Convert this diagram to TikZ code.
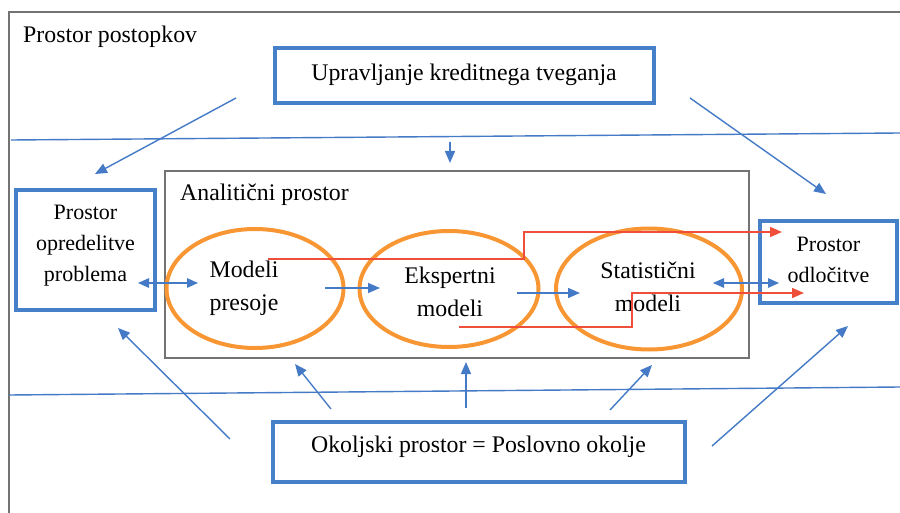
\documentclass[tikz,border=0pt]{standalone}
\usepackage{fontspec}
\setmainfont{Liberation Serif}
\usetikzlibrary{arrows.meta,shapes.geometric}
\definecolor{boxblue}{RGB}{70,128,200}
\definecolor{lineblue}{RGB}{68,122,198}
\definecolor{ringorange}{RGB}{248,150,52}
\definecolor{flowred}{RGB}{238,78,58}
\definecolor{framegray}{RGB}{115,115,115}
\begin{document}
\begin{tikzpicture}[x=1pt,y=-1pt,
  bluebox/.style={draw=boxblue,line width=4pt,inner sep=0pt},
  ring/.style={ellipse,draw=ringorange,line width=4pt,inner sep=0pt},
  grayframe/.style={draw=framegray,line width=1.1pt,inner sep=0pt},
  lbl/.style={font=\fontsize{23.8}{33}\selectfont,align=center,inner sep=0pt},
  boxlbl/.style={font=\fontsize{22}{31}\selectfont,align=center,inner sep=0pt},
  link/.style={draw=lineblue,line width=1.4pt,-{Triangle[length=12pt,width=10pt]}},
  both/.style={draw=lineblue,line width=1.4pt,{Triangle[length=11pt,width=9.5pt]}-{Triangle[length=11pt,width=9.5pt]}},
  flow/.style={draw=flowred,line width=1.4pt,-{Triangle[length=12pt,width=10pt]}},
  divider/.style={draw=lineblue,line width=1.4pt}]
\clip (0,0) rectangle (900,513);
\fill[white] (0,0) rectangle (900,513);
% outer frame
\draw[framegray,line width=1.1pt] (9,12) rectangle (930,540);
\node[lbl,anchor=base west] (title) at (23,43) {Prostor postopkov};

% dividers
\coordinate (d1l) at (11,140); \coordinate (d1r) at (900,133);
\coordinate (d2l) at (9,395);  \coordinate (d2r) at (900,387);
\draw[divider] (d1l) -- (d1r);
\draw[divider] (d2l) -- (d2r);

% boxes
\node[bluebox,minimum width=379pt,minimum height=55pt] (risk) at (464.5,75.5) {};
\node[lbl,anchor=base] (risktxt) at (464,81) {Upravljanje kreditnega tveganja};

\node[bluebox,minimum width=139pt,minimum height=120pt] (prob) at (85.5,250) {};
\node[boxlbl] (probtxt) at (85.5,246) {Prostor\\opredelitve\\problema};

\node[bluebox,minimum width=137pt,minimum height=82pt] (dec) at (828.5,262) {};
\node[boxlbl] (dectxt) at (828.5,260) {Prostor\\odločitve};

\node[bluebox,minimum width=412pt,minimum height=60pt] (env) at (479,452) {};
\node[lbl,anchor=base] (envtxt) at (478.5,452) {Okoljski prostor = Poslovno okolje};

% analytic space
\node[grayframe,minimum width=584pt,minimum height=187pt] (ana) at (457,264.5) {};
\node[lbl,anchor=base west] (anatxt) at (180,201) {Analitični prostor};

% rings
\node[ring,minimum width=177pt,minimum height=119pt] (e1) at (255,288.5) {};
\node[ring,minimum width=179pt,minimum height=116pt] (e2) at (449,289) {};
\node[ring,minimum width=186pt,minimum height=121pt] (e3) at (649,289) {};
\node[lbl] (e1txt) at (244,288) {Modeli\\presoje};
\node[lbl] (e2txt) at (450,291.5) {Ekspertni\\modeli};
\node[lbl] (e3txt) at (648,286.5) {Statistični\\modeli};

% red flows
\coordinate (r1s) at (268,259); \coordinate (r1a) at (524,259);
\coordinate (r1b) at (524,232); \coordinate (r1e) at (782,232);
\draw[flow] (r1s) -- (r1a) -- (r1b) -- (r1e);
\coordinate (r2s) at (459,327); \coordinate (r2a) at (632,327);
\coordinate (r2b) at (632,293); \coordinate (r2e) at (804,293);
\draw[flow] (r2s) -- (r2a) -- (r2b) -- (r2e);

% blue links inside
\coordinate (b1s) at (138,283); \coordinate (b1e) at (198,283);
\draw[both] (b1s) -- (b1e);
\coordinate (b2s) at (325,288); \coordinate (b2e) at (380,288);
\draw[link] (b2s) -- (b2e);
\coordinate (b3s) at (517,293); \coordinate (b3e) at (580,293);
\draw[link] (b3s) -- (b3e);
\coordinate (b4s) at (713,283); \coordinate (b4e) at (779,283);
\draw[both] (b4s) -- (b4e);

% top arrows
\coordinate (t1s) at (236,98);  \coordinate (t1e) at (95,174);
\draw[link] (t1s) -- (t1e);
\coordinate (t2s) at (690,98);  \coordinate (t2e) at (826,194);
\draw[link] (t2s) -- (t2e);
\coordinate (t3s) at (450,142); \coordinate (t3e) at (450,163);
\draw[link] (t3s) -- (t3e);

% bottom arrows
\coordinate (u1s) at (230,439); \coordinate (u1e) at (118,328);
\draw[link] (u1s) -- (u1e);
\coordinate (u2s) at (331,409); \coordinate (u2e) at (295,364);
\draw[link] (u2s) -- (u2e);
\coordinate (u3s) at (466,408); \coordinate (u3e) at (466,362);
\draw[link] (u3s) -- (u3e);
\coordinate (u4s) at (610,410); \coordinate (u4e) at (652,365);
\draw[link] (u4s) -- (u4e);
\coordinate (u5s) at (712,446); \coordinate (u5e) at (848,326);
\draw[link] (u5s) -- (u5e);
\end{tikzpicture}
\end{document}
